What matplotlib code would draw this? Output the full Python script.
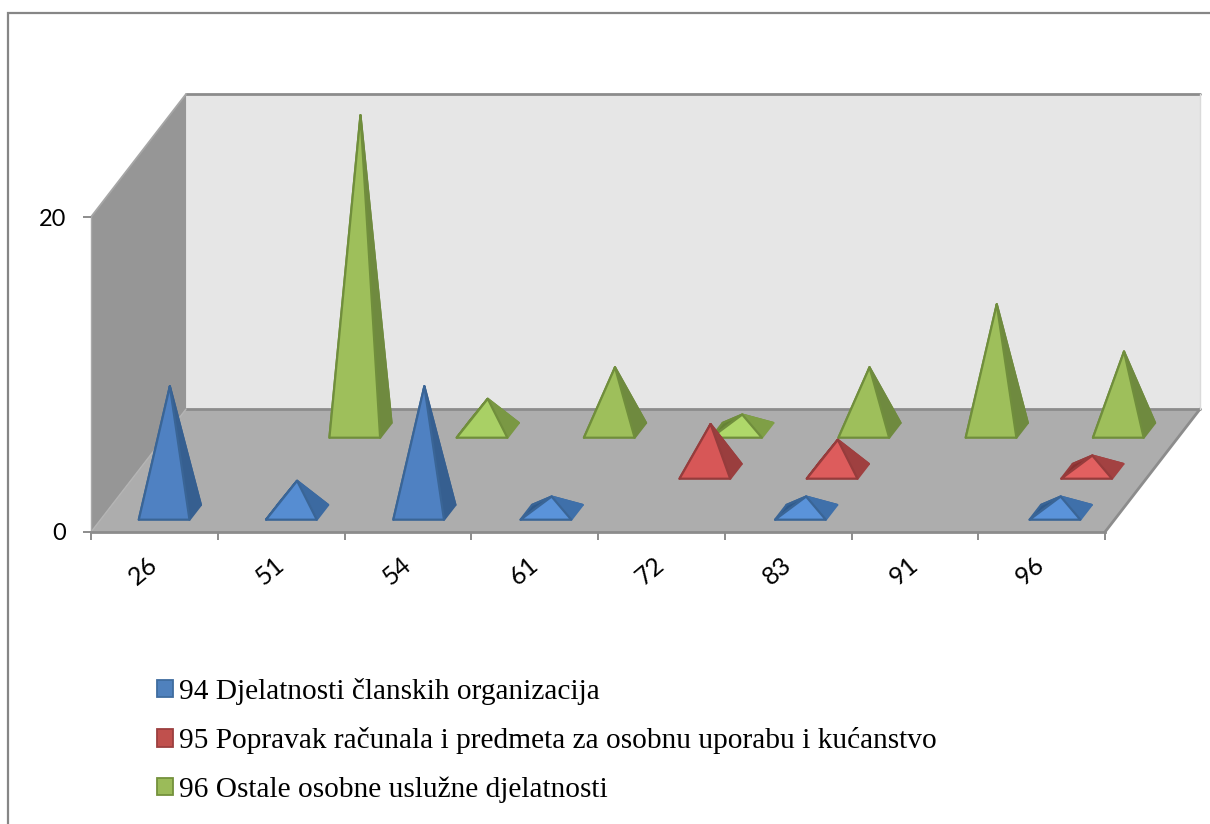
import matplotlib
matplotlib.use("Agg")
import matplotlib.pyplot as plt
from matplotlib.patches import Polygon, Patch, Rectangle
from matplotlib.colors import to_rgb
import numpy as np

plt.rcParams["font.family"] = "Lato"

categories = ["26", "51", "54", "61", "72", "83", "91", "96"]
series_names = ["94 Djelatnosti članskih organizacija",
                "95 Popravak računala i predmeta za osobnu uporabu i kućanstvo",
                "96 Ostale osobne uslužne djelatnosti"]
values_94 = [8, 2, 8, 1, 0, 1, 0, 1]
values_95 = [0, 0, 0, 0, 3, 2, 0, 1]
values_96 = [0, 20, 2, 4, 1, 4, 8, 5]
y_ticks = [0, 20]

W, H = 1210, 824
fig = plt.figure(figsize=(W / 100, H / 100), dpi=100)
fig.patch.set_facecolor("white")
fig.add_artist(Rectangle((8 / W, -0.01), 1.2, 1 - 13 / H + 0.01, transform=fig.transFigure,
                         fill=False, ec="#868686", lw=1.6))

ax = fig.add_axes([91 / W, 1 - 532 / H, (1105 - 91) / W, 315 / H])
ax.set_xlim(0, len(categories))
ax.set_ylim(0, 20)
ax.patch.set_visible(False)

# one series row of depth, in data units of the front plane
DX, DY = 0.25, 2.603
ROWS = 3
BASE_W, BASE_D = 0.2, 0.18
ROW_CENTRE = 0.48
PITCH = 1.004


def proj(c, z, v=0.0):
    return (c + DX * z, v + DY * z)


def mix(a, b, t):
    a, b = np.array(to_rgb(a)), np.array(to_rgb(b))
    return tuple(a + (b - a) * t)


# walls and floor
n = len(categories)
wall_edge = "#8C8C8C"
ax.add_patch(Polygon([proj(0, ROWS, 0), proj(n, ROWS, 0), proj(n, ROWS, 20), proj(0, ROWS, 20)],
                     fc="#E6E6E6", ec="none", clip_on=False, zorder=1))
ax.add_patch(Polygon([proj(0, 0, 0), proj(0, ROWS, 0), proj(0, ROWS, 20), proj(0, 0, 20)],
                     fc="#969696", ec="none", clip_on=False, zorder=1.1))
ax.add_patch(Polygon([proj(0, 0, 0), proj(n, 0, 0), proj(n, ROWS, 0), proj(0, ROWS, 0)],
                     fc="#ADADAD", ec="none", clip_on=False, zorder=1.2))
for p, q, col, lw in [(proj(0, ROWS, 20), proj(n, ROWS, 20), wall_edge, 2.0),
                      (proj(0, 0, 20), proj(0, ROWS, 20), "#A6A6A6", 1.3),
                      (proj(0, ROWS, 0), proj(n, ROWS, 0), wall_edge, 2.0),
                      (proj(n, 0, 0), proj(n, ROWS, 0), wall_edge, 2.0),
                      (proj(n, ROWS, 0), proj(n, ROWS, 20), "#DADADA", 1.0),
                      (proj(0, 0, 0), proj(0, ROWS, 0), "#B4B4B4", 1.0)]:
    ax.plot([p[0], q[0]], [p[1], q[1]], color=col, lw=lw, clip_on=False, zorder=1.3,
            solid_capstyle="round")

styles = [
    dict(front=("#5A93DA", "#4F81C2"), right=("#3F70AA", "#365F90"), left="#2F5A8C", edge="#3A6596"),
    dict(front=("#E26060", "#D25353"), right=("#A34242", "#963C3C"), left="#8A3232", edge="#963C3C"),
    dict(front=("#AFD86A", "#9EBF5B"), right=("#7F9F46", "#6F8A3F"), left="#668236", edge="#708E3C"),
]
rows = [values_94, values_95, values_96]
order = 10
for r in (2, 1, 0):
    st = styles[r]
    z = r + ROW_CENTRE
    for c, v in enumerate(rows[r]):
        if v <= 0:
            continue
        t = min((v - 1) / 3.0, 1.0)
        cx = (c + 0.5) * PITCH
        fl = proj(cx - BASE_W, z - BASE_D)
        fr = proj(cx + BASE_W, z - BASE_D)
        bl = proj(cx - BASE_W, z + BASE_D)
        br = proj(cx + BASE_W, z + BASE_D)
        apex = proj(cx, z, v)
        front = mix(*st["front"], t)
        right = mix(*st["right"], t)
        faces = [([bl, br, apex], st["left"], st["edge"]),
                 ([fl, bl, apex], st["left"], st["edge"]),
                 ([fr, br, apex], right, right),
                 ([fl, fr, apex], front, st["edge"])]
        for pts, col, edge in faces:
            ax.add_patch(Polygon(pts, closed=True, fc=col, ec=edge, lw=1.6,
                                 joinstyle="round", clip_on=False, zorder=order))
            order += 0.01

# axes
for s in ("top", "right"):
    ax.spines[s].set_visible(False)
ax.spines["bottom"].set_color("#8C8C8C")
ax.spines["bottom"].set_linewidth(2.0)
ax.spines["left"].set_color("#AAAAAA")
ax.spines["left"].set_linewidth(1.0)
ax.spines["left"].set_zorder(1.4)
ax.spines["bottom"].set_zorder(1.4)
ax.set_yticks(y_ticks)
ax.set_xticks(np.arange(n + 1))
ax.set_xticklabels([])
ax.tick_params(axis="both", which="major", length=6, width=1.4, color="#8C8C8C")
ax.tick_params(axis="y", labelsize=17, pad=12)
for c, name in enumerate(categories):
    ax.annotate(name, xy=(c + 0.5, 0), xycoords="data", xytext=(-8, -28), textcoords="offset points",
                ha="center", va="center", rotation=40, rotation_mode="anchor",
                fontsize=18, annotation_clip=False)

handles = [Patch(fc="#4F81BD", ec="#3F6C9F", lw=1.3),
           Patch(fc="#C0504D", ec="#9C3F3F", lw=1.3),
           Patch(fc="#9BBB59", ec="#74913C", lw=1.3)]
fig.legend(handles, series_names, loc="upper left",
           bbox_to_anchor=(151 / W, 1 - 672 / H), frameon=False,
           prop=dict(family="Liberation Serif", size=21.2),
           handlelength=0.54, handleheight=0.54, handletextpad=0.2,
           labelspacing=0.76, borderpad=0.2, borderaxespad=0)

fig.savefig("out.png", dpi=100, facecolor="white")
